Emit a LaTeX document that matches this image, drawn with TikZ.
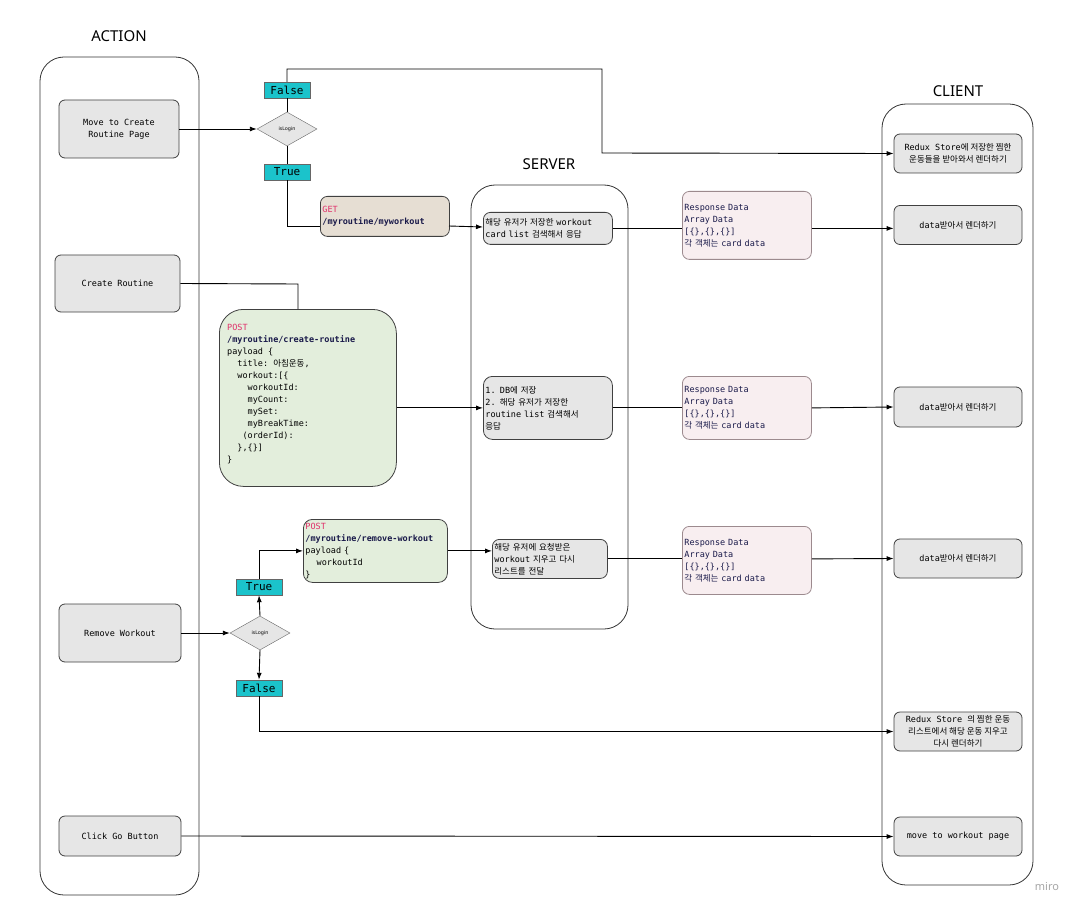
\documentclass[tikz,border=0pt]{standalone}
\usepackage{fontspec}
\setmainfont{Noto Sans}
\setmonofont{DejaVu Sans Mono}
\newfontfamily\kofont{Noto Sans CJK KR}
\newcommand{\ko}[1]{{\kofont #1}}
\usetikzlibrary{shapes.geometric,arrows.meta}
\definecolor{boxg}{HTML}{E6E6E6}
\definecolor{getc}{HTML}{E6DED3}
\definecolor{postc}{HTML}{E3EEDC}
\definecolor{respc}{HTML}{F8EEF0}
\definecolor{respb}{HTML}{9C8A8E}
\definecolor{tealc}{HTML}{1BC3CB}
\definecolor{pinkc}{HTML}{E0306A}
\definecolor{navy}{HTML}{1A1A4A}
\begin{document}
\begin{tikzpicture}[x=1pt,y=-1pt,
  lane/.style={draw=black!80,rounded corners=24pt,line width=0.8pt},
  title/.style={font=\fontsize{15}{16}\selectfont},
  box/.style={draw=black!75,fill=boxg,rounded corners=6pt,line width=0.8pt,font=\ttfamily\fontsize{8.5}{12}\selectfont,align=center,inner sep=2pt},
  lbox/.style={draw=black!75,rounded corners=7pt,line width=0.8pt,font=\ttfamily\fontsize{8.5}{12}\selectfont,align=left,anchor=north west,inner xsep=2pt,inner ysep=3pt},
  tag/.style={draw=black!60,fill=tealc,font=\ttfamily\fontsize{11}{12}\selectfont,minimum width=46pt,minimum height=16pt,inner sep=0pt},
  dia/.style={diamond,aspect=1.75,draw=black!60,fill=boxg,minimum width=60pt,minimum height=34pt,inner sep=0pt,font=\fontsize{5}{6}\selectfont},
  con/.style={line width=0.9pt,black},
  arr/.style={con,-{Latex[length=7pt,width=5pt]}}]
\useasboundingbox (0,0) rectangle (1089,917);
% lanes
\draw[lane] (40,57) rectangle (199,895);
\draw[lane] (471,185) rectangle (628,629);
\draw[lane] (882,104) rectangle (1033,885);
\node[title] (tA) at (119,36) {ACTION};
\node[title] (tS) at (549,164) {SERVER};
\node[title] (tC) at (958,91) {CLIENT};
% action boxes
\node[box,minimum width=120pt,minimum height=58pt] (a1) at (119,129) {Move to Create\\Routine Page};
\node[box,minimum width=125pt,minimum height=57pt] (a2) at (117.5,283.5) {Create Routine};
\node[box,minimum width=122pt,minimum height=58pt] (a3) at (120,633) {Remove Workout};
\node[box,minimum width=122pt,minimum height=40pt] (a4) at (120,836) {Click Go Button};
% decision 1
\node[dia] (d1) at (287,129) {isLogin};
\node[tag] (f1) at (287,90) {False};
\node[tag] (t1) at (287,172) {True};
% get box
\node[lbox,fill=getc,text width=125pt,minimum height=40pt] (get) at (320,196) {\textcolor{pinkc}{GET}\\\textbf{\textcolor{navy}{/myroutine/myworkout}}};
% post box
\node[draw=black!75,line width=0.8pt,fill=postc,minimum width=177pt,minimum height=177pt,rounded corners=24pt,anchor=north west] (post) at (219,309) {};
\node[anchor=north west,font=\ttfamily\fontsize{8.5}{12}\selectfont,align=left,inner sep=0pt] (postt) at (227,324) {\textcolor{pinkc}{POST}\\\textbf{\textcolor{navy}{/myroutine/create-routine}}\\payload \{\\\ \ title: \ko{아침운동},\\\ \ workout:[\{\\\ \ \ \ workoutId:\\\ \ \ \ myCount:\\\ \ \ \ mySet:\\\ \ \ \ myBreakTime:\\\ \ \ (orderId):\\\ \ \},\{\}]\\\}};
% post remove
\node[lbox,fill=postc,text width=140pt,minimum height=63pt,rounded corners=9pt] (post2) at (303,519) {\textcolor{pinkc}{POST}\\\textbf{\textcolor{navy}{/myroutine/remove-workout}}\\payload \{\\\ \ \ \ workoutId\\\}};
% decision 2
\node[dia] (d2) at (260,633) {isLogin};
\node[tag] (t2) at (259,587) {True};
\node[tag] (f2) at (259,688) {False};
% server boxes
\node[lbox,fill=boxg,text width=125pt,minimum height=32pt] (s1) at (483,212) {\ko{해당 유저가 저장한} workout\\card list \ko{검색해서 응답}};
\node[lbox,fill=boxg,text width=125pt,minimum height=63pt,rounded corners=9pt] (s2) at (483,376) {1. DB\ko{에 저장}\\2. \ko{해당 유저가 저장한}\\routine list \ko{검색해서}\\\ko{응답}};
\node[lbox,fill=boxg,text width=111pt,minimum height=39pt] (s3) at (492,539) {\ko{해당 유저에 요청받은}\\workout \ko{지우고 다시}\\\ko{리스트를 전달}};
% response boxes
\foreach \n/\y/\h in {r1/191/68,r2/376/63,r3/526/68}{
  \node[lbox,fill=respc,draw=respb,text width=125pt,minimum height=\h pt,rounded corners=7pt] (\n) at (682,\y) {\textcolor{navy}{Response Data}\\\textcolor{navy}{Array Data}\\\textcolor{navy}{[\{\},\{\},\{\}]}\\\textcolor{navy}{\ko{각 객체는} card data}};
}
% client boxes
\node[box,minimum width=128pt,minimum height=39pt] (c0) at (958,153.5) {Redux Store\ko{에 저장한 찜한}\\\ko{운동들을 받아와서 렌더하기}};
\node[box,minimum width=128pt,minimum height=39pt] (c1) at (958,225) {data\ko{받아서 렌더하기}};
\node[box,minimum width=128pt,minimum height=40pt] (c2) at (958,407) {data\ko{받아서 렌더하기}};
\node[box,minimum width=128pt,minimum height=39pt] (c3) at (958,558.5) {data\ko{받아서 렌더하기}};
\node[box,minimum width=128pt,minimum height=39pt] (c4) at (958,731.5) {Redux Store \ko{의 찜한 운동}\\\ko{리스트에서 해당 운동 지우고}\\\ko{다시 렌더하기}};
\node[box,minimum width=128pt,minimum height=39pt] (c5) at (958,836.5) {move to workout page};
\node[text=black!35,font=\fontsize{11}{12}\selectfont] (miro) at (1047,886) {miro};
% connectors
\draw[arr] (a1.east) -- (d1.west);
\draw[con] (d1.north) -- (f1.south);
\coordinate (k1) at (287,69);
\coordinate (k2) at (602,69);
\coordinate (k3) at (602,153);
\draw[arr] (f1.north) -- (k1) -- (k2) -- (k3) -- (c0.west);
\draw[con] (d1.south) -- (t1.north);
\coordinate (g1) at (320,226);
\draw[con] (t1.south) |- (g1);
\coordinate (g2) at (449,226);
\coordinate (s1w) at (483,227);
\draw[arr] (g2) -- (s1w);
\draw[con] (s1.east) -- (s1.east -| r1.west);
\draw[arr] (s1.east -| r1.east) -- (s1.east -| c1.west);
\coordinate (k4) at (298,284);
\draw[con] (a2.east) -- (k4) -- (post.north -| k4);
\draw[arr] (post.east |- s2.west) -- (s2.west);
\draw[con] (s2.east) -- (r2.west);
\draw[arr] (r2.east) -- (c2.west);
\draw[arr] (a3.east) -- (d2.west);
\draw[arr] (d2.north) -- (t2.south);
\draw[arr] (t2.north) |- (post2.west);
\draw[arr] (post2.east) -- (post2.east -| s3.west);
\draw[con] (s3.east) -- (s3.east -| r3.west);
\draw[arr] (s3.east -| r3.east) -- (c3.west);
\draw[arr] (d2.south) -- (f2.north);
\draw[arr] (f2.south) |- (c4.west);
\draw[arr] (a4.east) -- (c5.west);
\end{tikzpicture}
\end{document}
